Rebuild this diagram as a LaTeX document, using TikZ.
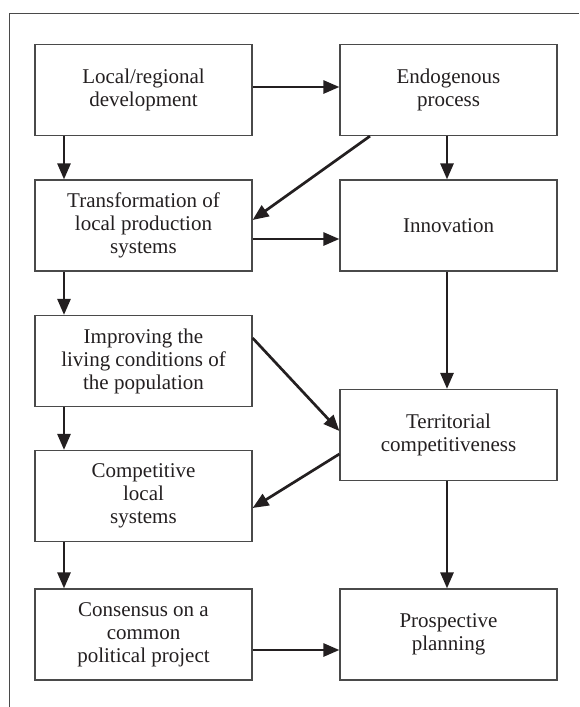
\documentclass[tikz,border=0pt]{standalone}
\usepackage{fontspec}
\setmainfont{Liberation Serif}
\usetikzlibrary{arrows.meta}
\definecolor{ink}{HTML}{231F20}
\definecolor{frame}{HTML}{4A4A4A}
\tikzset{
  box/.style={draw=frame, line width=1.2pt, rectangle, minimum width=217pt, minimum height=91pt,
    inner sep=0pt, align=center, text=ink, font=\fontsize{21}{23}\selectfont},
  arr/.style={draw=ink, line width=2.7pt, -{Triangle[length=16pt,width=13pt]}},
  outline/.style={draw=frame, line width=1pt}
}
\begin{document}
\begin{tikzpicture}[x=1pt,y=-1pt]
\useasboundingbox (0,0) rectangle (579,707);
\draw[outline] (9,707) -- (9,13) -- (579,13);

\node[box] (L1) at (143.5,90) {Local/regional\\development};
\node[box] (R1) at (448.5,90) {Endogenous\\process};
\node[box] (L2) at (143.5,225.5) {Transformation of\\local production\\systems};
\node[box] (R2) at (448.5,225.5) {Innovation};
\node[box] (L3) at (143.5,361) {Improving the\\living conditions of\\the population};
\node[box] (R3) at (448.5,435) {Territorial\\competitiveness};
\node[box] (L4) at (143.5,496) {Competitive\\local\\systems};
\node[box] (L5) at (143.5,634.5) {Consensus on a\\common\\political project};
\node[box] (R4) at (448.5,634.5) {Prospective\\planning};

\draw[arr] ([yshift=3pt]L1.east) -- ([yshift=3pt]R1.west);
\draw[arr] ([xshift=-79.5pt]L1.south) -- ([xshift=-79.5pt]L2.north);
\draw[arr] ([xshift=-1.5pt]R1.south) -- ([xshift=-1.5pt]R2.north);
\draw[arr] ([xshift=-78.5pt]R1.south) -- ([yshift=5.5pt]L2.east);
\draw[arr] ([yshift=-13.5pt]L2.east) -- ([yshift=-13.5pt]R2.west);
\draw[arr] ([xshift=-79.5pt]L2.south) -- ([xshift=-79.5pt]L3.north);
\draw[arr] ([xshift=-1.5pt]R2.south) -- ([xshift=-1.5pt]R3.north);
\draw[arr] ([yshift=23pt]L3.east) -- ([yshift=4pt]R3.west);
\draw[arr] ([xshift=-79.5pt]L3.south) -- ([xshift=-79.5pt]L4.north);
\draw[arr] ([yshift=-19pt]R3.west) -- ([yshift=-12pt]L4.east);
\draw[arr] ([xshift=-79.5pt]L4.south) -- ([xshift=-79.5pt]L5.north);
\draw[arr] ([xshift=-1.5pt]R3.south) -- ([xshift=-1.5pt]R4.north);
\draw[arr] ([yshift=-15.5pt]L5.east) -- ([yshift=-15.5pt]R4.west);
\end{tikzpicture}
\end{document}
